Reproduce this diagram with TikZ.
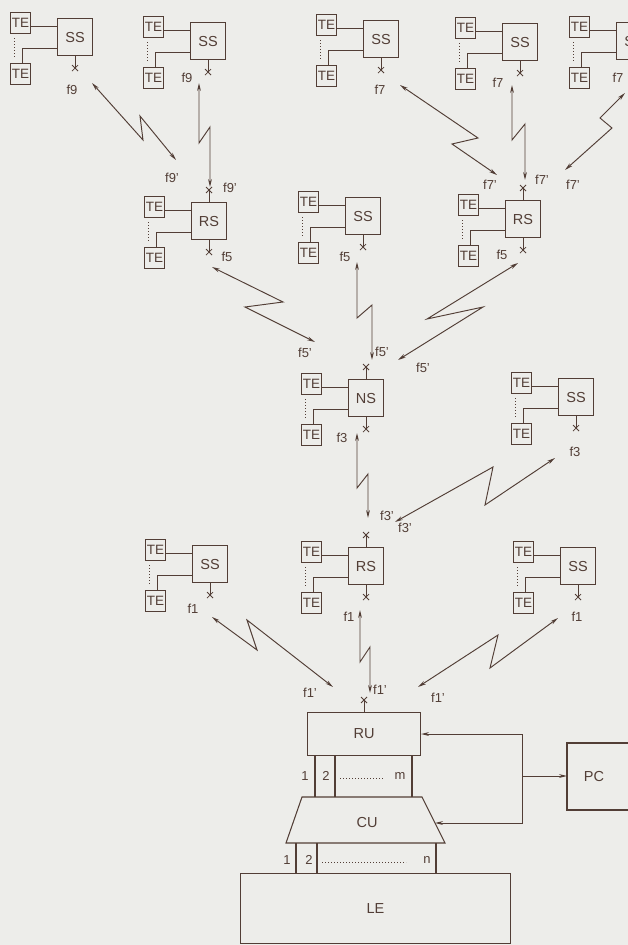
\documentclass[tikz,border=0pt]{standalone}
\usepackage{fontspec}
\setmainfont{Liberation Sans}
\usetikzlibrary{arrows.meta,calc}
\definecolor{ink}{RGB}{82,62,54}
\definecolor{paper}{RGB}{237,237,234}
\tikzset{
  ln/.style={draw=ink, line width=1.05pt},
  bx/.style={ln, minimum width=35pt, minimum height=37pt, inner sep=0pt, font=\fontsize{14.5}{14.5}\selectfont, text=ink},
  te/.style={ln, minimum width=20pt, minimum height=21pt, inner sep=0pt, font=\fontsize{13.5}{13.5}\selectfont, text=ink},
  lbl/.style={font=\fontsize{13}{13}\selectfont, text=ink, inner sep=0pt},
  big/.style={ln, inner sep=0pt, font=\fontsize{14.5}{14.5}\selectfont, text=ink},
  zz/.style={ln, line width=0.95pt, {Stealth[length=8pt,width=3.8pt]}-{Stealth[length=8pt,width=3.8pt]}},
  onearr/.style={ln, line width=0.95pt, -{Stealth[length=8pt,width=3.8pt]}},
  dots/.style={draw=ink, line width=1pt, dotted},
}
\newcommand\mkcell[4]{%
  \node[bx,anchor=north west] (#1) at (#2,#3) {#4};
  \node[te,anchor=north west] (#1a) at ({#2-47},{#3-6}) {TE};
  \node[te,anchor=north west] (#1b) at ({#2-47},{#3+45}) {TE};
  \draw[ln] ([yshift=-3pt]#1a.east) coordinate (#1p) -- (#1p -| #1.west);
  \draw[ln] ([yshift=-11.5pt]#1.west) -| ([xshift=2pt]#1b.north);
  \draw[dots] ([xshift=-6pt,yshift=-4pt]#1a.south) -- ([xshift=-6pt,yshift=4pt]#1b.north);
}
\newcommand\botx[1]{%
  \draw[ln] (#1.south) -- ++(0,12);
  \draw[ln,line width=0.8pt] ([shift={(-3,9)}]#1.south) -- ++(6,6) ([shift={(3,9)}]#1.south) -- ++(-6,6);}
\newcommand\topx[1]{%
  \draw[ln] (#1.north) -- ++(0,-12);
  \draw[ln,line width=0.8pt] ([shift={(-3,-9)}]#1.north) -- ++(6,-6) ([shift={(3,-9)}]#1.north) -- ++(-6,-6);}
\newcommand\zig[8]{\draw[zz] (#1,#2) -- (#3,#4) -- (#5,#6) -- (#7,#8);}
\begin{document}
\begin{tikzpicture}[x=1pt,y=-1pt]
\fill[paper] (0,0) rectangle (628,945);
\useasboundingbox (0,0) rectangle (628,945);
\clip (0,0) rectangle (628,945);
% top row
\mkcell{ssA}{57}{18}{SS}\botx{ssA}
\mkcell{ssB}{190}{22}{SS}\botx{ssB}
\mkcell{ssC}{363}{20}{SS}\botx{ssC}
\mkcell{ssD}{502}{23}{SS}\botx{ssD}
\mkcell{ssE}{616}{22}{SS}\botx{ssE}
% second row
\mkcell{rsL}{191}{202}{RS}\botx{rsL}\topx{rsL}
\mkcell{ssM}{345}{197}{SS}\botx{ssM}
\mkcell{rsR}{505}{200}{RS}\botx{rsR}\topx{rsR}
% third row
\mkcell{ns}{348}{379}{NS}\botx{ns}\topx{ns}
\mkcell{ssF}{558}{378}{SS}\botx{ssF}
% fourth row
\mkcell{ssG}{192}{545}{SS}\botx{ssG}
\mkcell{rsC}{348}{547}{RS}\botx{rsC}\topx{rsC}
\mkcell{ssH}{560}{547}{SS}\botx{ssH}
% radio links
\zig{92}{83}{143}{140}{140}{116}{176}{160}
\zig{199}{83}{199}{143}{210}{127}{210}{187}
\zig{400}{85}{478}{138}{452}{144}{497}{175}
\zig{512}{85}{512}{140}{525}{124}{525}{180}
\zig{625}{93}{600}{118}{612}{128}{565}{170}
\zig{212}{267}{283}{302}{245}{307}{315}{342}
\zig{357}{262}{357}{318}{372}{305}{372}{360}
\zig{518}{263}{427}{319}{483}{307}{398}{360}
\zig{357}{433}{357}{488}{368}{474}{368}{518}
\zig{555}{458}{485}{505}{493}{467}{395}{522}
\zig{212}{617}{257}{650}{247}{620}{333}{687}
\zig{360}{610}{360}{662}{370}{647}{370}{693}
\zig{558}{618}{490}{668}{498}{635}{418}{687}
% labels
\node[lbl] (l1) at (72,90) {f9};
\node[lbl] (l2) at (187,78) {f9};
\node[lbl] (l3) at (172,178) {f9'};
\node[lbl] (l4) at (230,188) {f9'};
\node[lbl] (l5) at (380,90) {f7};
\node[lbl] (l6) at (498,83) {f7};
\node[lbl] (l7) at (618,78) {f7};
\node[lbl] (l8) at (490,185) {f7'};
\node[lbl] (l9) at (542,180) {f7'};
\node[lbl] (l10) at (573,185) {f7'};
\node[lbl] (l11) at (227,257) {f5};
\node[lbl] (l12) at (345,257) {f5};
\node[lbl] (l13) at (502,255) {f5};
\node[lbl] (l14) at (305,353) {f5'};
\node[lbl] (l15) at (382,352) {f5'};
\node[lbl] (l16) at (423,368) {f5'};
\node[lbl] (l17) at (342,438) {f3};
\node[lbl] (l18) at (575,452) {f3};
\node[lbl] (l19) at (387,516) {f3'};
\node[lbl] (l20) at (405,528) {f3'};
\node[lbl] (l21) at (193,609) {f1};
\node[lbl] (l22) at (349,617) {f1};
\node[lbl] (l23) at (577,617) {f1};
\node[lbl] (l24) at (310,693) {f1'};
\node[lbl] (l25) at (380,690) {f1'};
\node[lbl] (l26) at (438,698) {f1'};
% RU / CU / LE / PC
\node[big, minimum width=113pt, minimum height=43pt, anchor=north west] (RU) at (307,712) {RU};
\topx{RU}
\draw[ln] (315,755) -- (315,797) (335,755) -- (335,797) (412,755) -- (412,797);
\node[lbl] (m1) at (305,776) {1};
\node[lbl] (m2) at (326,776) {2};
\draw[dots] (340,778) -- (384,778);
\node[lbl] (mm) at (400,776) {m};
\draw[ln] (302,797) coordinate (cutl) -- (422,797) coordinate (cutr) -- (445,843) coordinate (cubr) -- (286,843) coordinate (cubl) -- cycle;
\node[lbl, font=\fontsize{14.5}{14.5}\selectfont] (CU) at (367,822) {CU};
\coordinate (cuR) at (435,823);
\draw[ln] (296,843) -- (296,873) (317,843) -- (317,873) (436,843) -- (436,873);
\node[lbl] (n1) at (287,860) {1};
\node[lbl] (n2) at (309,860) {2};
\draw[dots] (322,862) -- (406,862);
\node[lbl] (nn) at (427,860) {n};
\node[big, minimum width=270pt, minimum height=70pt, anchor=north west] (LE) at (240,873) {LE};
\draw[ln] (629,743) -| (567,810) -- (629,810);
\node[lbl, font=\fontsize{14.5}{14.5}\selectfont] (PC) at (594,776) {PC};
\coordinate (pcw) at (567,776);
\coordinate (jt) at (522,776);
\draw[zz] (RU.east) -- (RU.east -| jt) -- (jt |- cuR) -- (cuR);
\draw[onearr] (jt) -- (pcw);
\end{tikzpicture}
\end{document}
